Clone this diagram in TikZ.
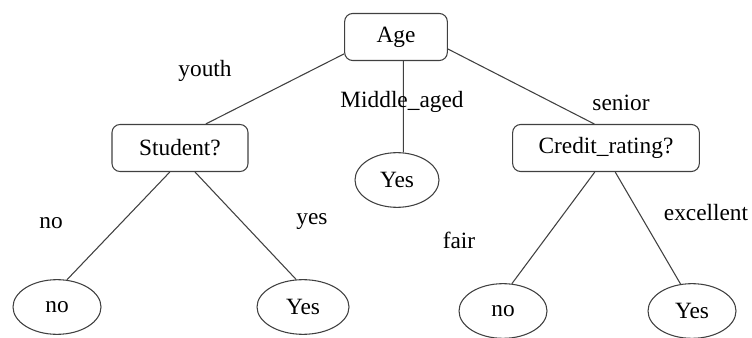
\documentclass[tikz,border=0pt]{standalone}
\usepackage{fontspec}
\setmainfont{Liberation Serif}
\usetikzlibrary{shapes.geometric}

\begin{document}
\begin{tikzpicture}[x=0.75pt,y=-0.75pt,
  font=\fontsize{17.5}{20}\selectfont,
  testbox/.style={draw=black!75,line width=0.8pt,rounded corners=6pt,inner sep=0pt,minimum height=35.25pt},
  leaf/.style={draw=black!75,line width=0.8pt,ellipse,inner sep=0pt,minimum width=66pt,minimum height=41pt},
  branch/.style={draw=black!75,line width=0.8pt}]
\useasboundingbox (0,0) rectangle (752,338);

  \node[testbox,minimum width=77pt] (age) at (396,37) {Age};
  \node[testbox,minimum width=102pt] (student) at (180,148) {Student?};
  \node[testbox,minimum width=140pt] (credit) at (606,148) {Credit\_rating?};

  \node[leaf,minimum width=63pt] (yesmid) at (397,180) {Yes};
  \node[leaf] (nostud) at (57,307) {no};
  \node[leaf,minimum width=69pt] (yesstud) at (303,307) {Yes};
  \node[leaf] (nocred) at (503,311) {no};
  \node[leaf] (yescred) at (692,311) {Yes};

  \draw[branch] (age.198) -- (student.43);
  \draw[branch] (age.-73) -- (yesmid.77);
  \draw[branch] (age.-13) -- (credit.116);

  \draw[branch] (student.247) -- (nostud.70);
  \draw[branch] (student.302) -- (yesstud.104);
  \draw[branch] (credit.245) -- (nocred.72);
  \draw[branch] (credit.291) -- (yescred.113);

  \node (lyouth) at (205,71) {youth};
  \node (lmiddle) at (402,102) {Middle\_aged};
  \node (lsenior) at (621,103) {senior};
  \node (lno) at (51,223) {no};
  \node (lyes) at (312,222) {yes};
  \node (lfair) at (459,240) {fair};
  \node (lexcellent) at (706,213) {excellent};

\end{tikzpicture}
\end{document}
